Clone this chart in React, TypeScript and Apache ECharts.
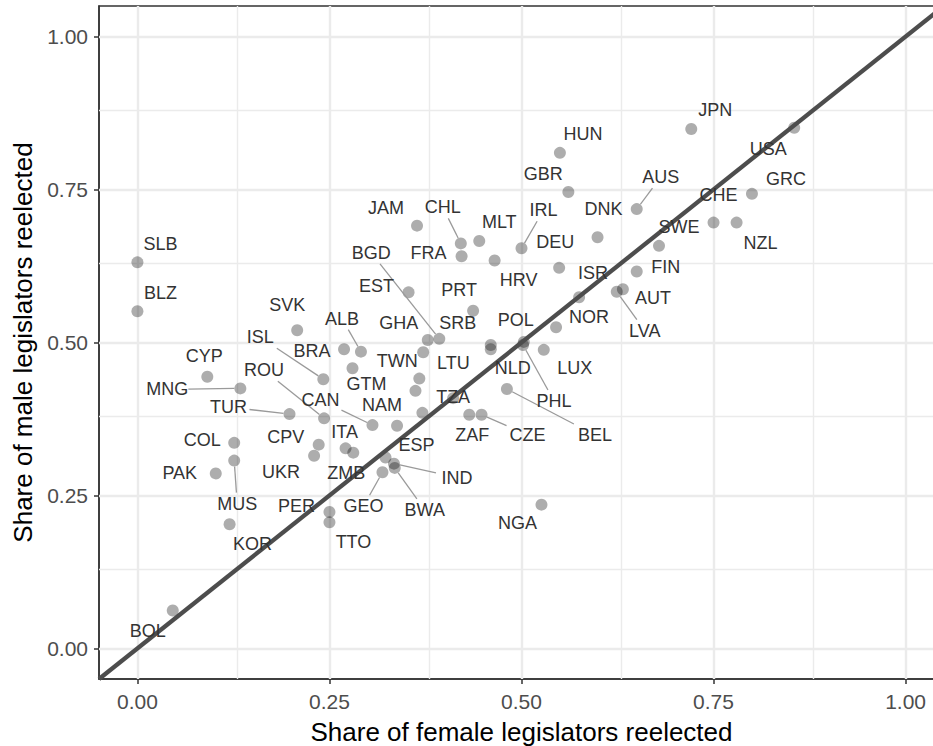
import React, { useEffect, useRef } from "react";
import * as echarts from "echarts";

// ---- data ----
const countries = [
  "SLB", "BLZ", "SVK", "ALB", "BRA", "ISL", "GTM", "CYP", "MNG", "ROU",
  "TUR", "CAN", "NAM", "COL", "CPV", "ITA", "ZMB", "PAK", "MUS", "UKR",
  "PER", "TTO", "KOR", "GEO", "BWA", "IND", "ESP", "TZA", "ZAF", "CZE",
  "BEL", "PHL", "POL", "NLD", "SRB", "LTU", "TWN", "GHA", "BGD", "EST",
  "PRT", "JAM", "CHL", "FRA", "MLT", "HRV", "IRL", "DEU", "DNK", "HUN",
  "GBR", "JPN", "USA", "GRC", "CHE", "NZL", "SWE", "FIN", "ISR", "NOR",
  "LUX", "AUT", "LVA", "AUS", "NGA", "BOL",
];
const femaleReelected = [
  0.000, 0.000, 0.208, 0.291, 0.269, 0.242, 0.280, 0.091, 0.134, 0.243,
  0.198, 0.306, 0.338, 0.126, 0.236, 0.271, 0.281, 0.102, 0.126, 0.230,
  0.250, 0.250, 0.120, 0.319, 0.335, 0.334, 0.323, 0.411, 0.432, 0.448,
  0.481, 0.502, 0.503, 0.460, 0.460, 0.367, 0.372, 0.378, 0.393, 0.353,
  0.437, 0.364, 0.421, 0.422, 0.445, 0.465, 0.500, 0.549, 0.599, 0.550,
  0.561, 0.721, 0.855, 0.800, 0.750, 0.780, 0.679, 0.650, 0.575, 0.545,
  0.529, 0.632, 0.624, 0.650, 0.526, 0.046,
];
const maleReelected = [
  0.631, 0.551, 0.520, 0.485, 0.489, 0.440, 0.458, 0.444, 0.425, 0.376,
  0.383, 0.365, 0.364, 0.336, 0.333, 0.327, 0.320, 0.286, 0.307, 0.315,
  0.223, 0.206, 0.203, 0.288, 0.295, 0.302, 0.312, 0.409, 0.382, 0.382,
  0.424, 0.496, 0.501, 0.489, 0.496, 0.441, 0.484, 0.504, 0.506, 0.582,
  0.552, 0.691, 0.662, 0.641, 0.666, 0.634, 0.654, 0.622, 0.672, 0.810,
  0.746, 0.849, 0.851, 0.743, 0.696, 0.696, 0.658, 0.616, 0.574, 0.525,
  0.488, 0.587, 0.583, 0.718, 0.235, 0.062,
];
// points whose labels were dropped by the label repeller
const unlabeledFemale = [0.362, 0.371];
const unlabeledMale = [0.421, 0.385];

const majorTicks = [0, 0.25, 0.5, 0.75, 1];
const minorTicks = [0.125, 0.375, 0.625, 0.875];
const axisLimits = [-0.05, 1.05];
const xTitle = "Share of female legislators reelected";
const yTitle = "Share of male legislators reelected";

// ---- label layout: pixel offset of label centre from its point, segment flag ----
const labelLayout: Record<string, [number, number, number]> = {
  SLB: [23, -18, 0], BLZ: [23, -18, 0], SVK: [-10, -25, 0], ALB: [-19, -33, 1],
  BRA: [-32, 2, 0], ISL: [-63, -42, 1], GTM: [14, 16, 0], CYP: [-3, -21, 0],
  MNG: [-73, 1, 1], ROU: [-60, -48, 1], TUR: [-61, -7, 1], CAN: [-52, -25, 1],
  NAM: [-15, -21, 0], COL: [-32, -3, 0], CPV: [-33, -8, 0], ITA: [-1, -16, 0],
  ZMB: [-7, 20, 0], PAK: [-36, 0, 0], MUS: [3, 43, 1], UKR: [-33, 16, 0],
  PER: [-33, -6, 0], TTO: [24, 20, 0], KOR: [23, 20, 0], GEO: [-19, 34, 1],
  BWA: [30, 42, 1], IND: [63, 14, 1], ESP: [31, -13, 0], TZA: [0, -1, 0],
  ZAF: [3, 20, 0], CZE: [46, 20, 1], BEL: [88, 46, 1], PHL: [31, 56, 1],
  POL: [-8, -22, 0], NLD: [22, 19, 0], SRB: [-33, -22, 0], LTU: [34, -16, 0],
  TWN: [-26, 9, 0], GHA: [-29, -17, 0], BGD: [-68, -86, 1], EST: [-32, -6, 0],
  PRT: [-14, -21, 0], JAM: [-31, -18, 0], CHL: [-18, -36, 1], FRA: [-33, -3, 0],
  MLT: [20, -19, 0], HRV: [24, 19, 0], IRL: [22, -38, 1], DEU: [-4, -26, 0],
  DNK: [6, -28, 0], HUN: [23, -19, 0], GBR: [-25, -18, 0], JPN: [24, -19, 0],
  USA: [-26, 21, 0], GRC: [34, -15, 0], CHE: [5, -28, 0], NZL: [24, 20, 0],
  SWE: [20, -19, 0], FIN: [29, -5, 0], ISR: [14, -24, 0], NOR: [33, -10, 0],
  LUX: [31, 18, 0], AUT: [30, 9, 0], LVA: [28, 39, 1], AUS: [24, -32, 1],
  NGA: [-24, 18, 0], BOL: [-25, 21, 0],
};

const FONT = '"Liberation Sans", Arial, Helvetica, sans-serif';

export default function App() {
  const ref = useRef<HTMLDivElement>(null);

  useEffect(() => {
    if (!ref.current) return;
    const chart = echarts.init(ref.current, undefined, { renderer: "svg" });

    const points = [
      ...femaleReelected.map((x, i) => [x, maleReelected[i]]),
      ...unlabeledFemale.map((x, i) => [x, unlabeledMale[i]]),
    ];
    const labelData = countries.map((c, i) => [femaleReelected[i], maleReelected[i]]);
    const diagonal = [
      [axisLimits[0], axisLimits[0]],
      [axisLimits[1], axisLimits[1]],
    ];

    const gridLines = [
      ...majorTicks.map((v) => ({ xAxis: v, lineStyle: { width: 2.4 } })),
      ...minorTicks.map((v) => ({ xAxis: v, lineStyle: { width: 1.4 } })),
      ...majorTicks.map((v) => ({ yAxis: v, lineStyle: { width: 2.4 } })),
      ...minorTicks.map((v) => ({ yAxis: v, lineStyle: { width: 1.4 } })),
    ];

    const axisCommon = {
      type: "value" as const,
      min: axisLimits[0],
      max: axisLimits[1],
      axisLine: { show: true, onZero: false, lineStyle: { color: "#333333", width: 1.5 } },
      axisTick: {
        show: true,
        customValues: majorTicks,
        length: 5,
        lineStyle: { color: "#333333", width: 1.5 },
      },
      splitLine: { show: false },
      nameLocation: "middle" as const,
      nameTextStyle: { fontSize: 26, color: "#000000", fontFamily: FONT },
    };

    chart.setOption({
      animation: false,
      backgroundColor: "#ffffff",
      grid: {
        left: 99,
        top: 6,
        width: 845,
        height: 673,
        containLabel: false,
        outerBoundsMode: "none",
        show: true,
        borderColor: "#333333",
        borderWidth: 1.5,
        backgroundColor: "#ffffff",
      },
      xAxis: {
        ...axisCommon,
        name: xTitle,
        nameGap: 40,
        axisLabel: {
          customValues: majorTicks,
          formatter: (v: number) => v.toFixed(2),
          color: "#4d4d4d",
          fontSize: 21,
          fontFamily: FONT,
          margin: 12,
        },
      },
      yAxis: {
        ...axisCommon,
        name: yTitle,
        nameGap: 63,
        axisLabel: {
          customValues: majorTicks,
          formatter: (v: number) => v.toFixed(2),
          color: "#4d4d4d",
          fontSize: 21,
          fontFamily: FONT,
          margin: 11,
        },
      },
      series: [
        {
          type: "line",
          data: [],
          silent: true,
          z: 1,
          markLine: {
            silent: true,
            z: 1,
            symbol: ["none", "none"],
            label: { show: false },
            lineStyle: { color: "#ebebeb", type: "solid" },
            emphasis: { disabled: true },
            data: gridLines,
          },
        },
        {
          type: "scatter",
          data: points,
          symbol: "circle",
          symbolSize: 12,
          z: 2,
          silent: true,
          itemStyle: { color: "rgba(0,0,0,0.4)" },
        },
        {
          type: "line",
          data: diagonal,
          z: 3,
          silent: true,
          symbol: "none",
          lineStyle: { color: "#4d4d4d", width: 4.3 },
        },
        {
          type: "custom",
          z: 4,
          silent: true,
          clip: false,
          data: labelData,
          encode: { x: 0, y: 1 },
          renderItem: (params: any, api: any) => {
            const name = countries[params.dataIndex];
            const [dx, dy, seg] = labelLayout[name] || [0, -16, 0];
            const p = api.coord([api.value(0), api.value(1)]);
            const cx = p[0] + dx;
            const cy = p[1] + dy;
            const children: any[] = [];
            if (seg) {
              const hw = 21;
              const hh = 11;
              const vx = p[0] - cx;
              const vy = p[1] - cy;
              const t = Math.min(
                vx !== 0 ? hw / Math.abs(vx) : Infinity,
                vy !== 0 ? hh / Math.abs(vy) : Infinity
              );
              if (t < 1) {
                const len = Math.hypot(vx, vy);
                children.push({
                  type: "line",
                  shape: {
                    x1: p[0] - (vx / len) * 6,
                    y1: p[1] - (vy / len) * 6,
                    x2: cx + vx * t,
                    y2: cy + vy * t,
                  },
                  style: { stroke: "#9a9a9a", lineWidth: 1.3 },
                });
              }
            }
            children.push({
              type: "text",
              x: cx,
              y: cy,
              style: {
                text: name,
                fill: "#333333",
                font: `18px ${FONT}`,
                align: "center",
                verticalAlign: "middle",
              },
            });
            return { type: "group", children };
          },
        },
      ],
    });

    return () => chart.dispose();
  }, []);

  return (
    <div
      ref={ref}
      style={{ position: "absolute", left: 0, top: 0, width: 933, height: 746, background: "#fff" }}
    />
  );
}
